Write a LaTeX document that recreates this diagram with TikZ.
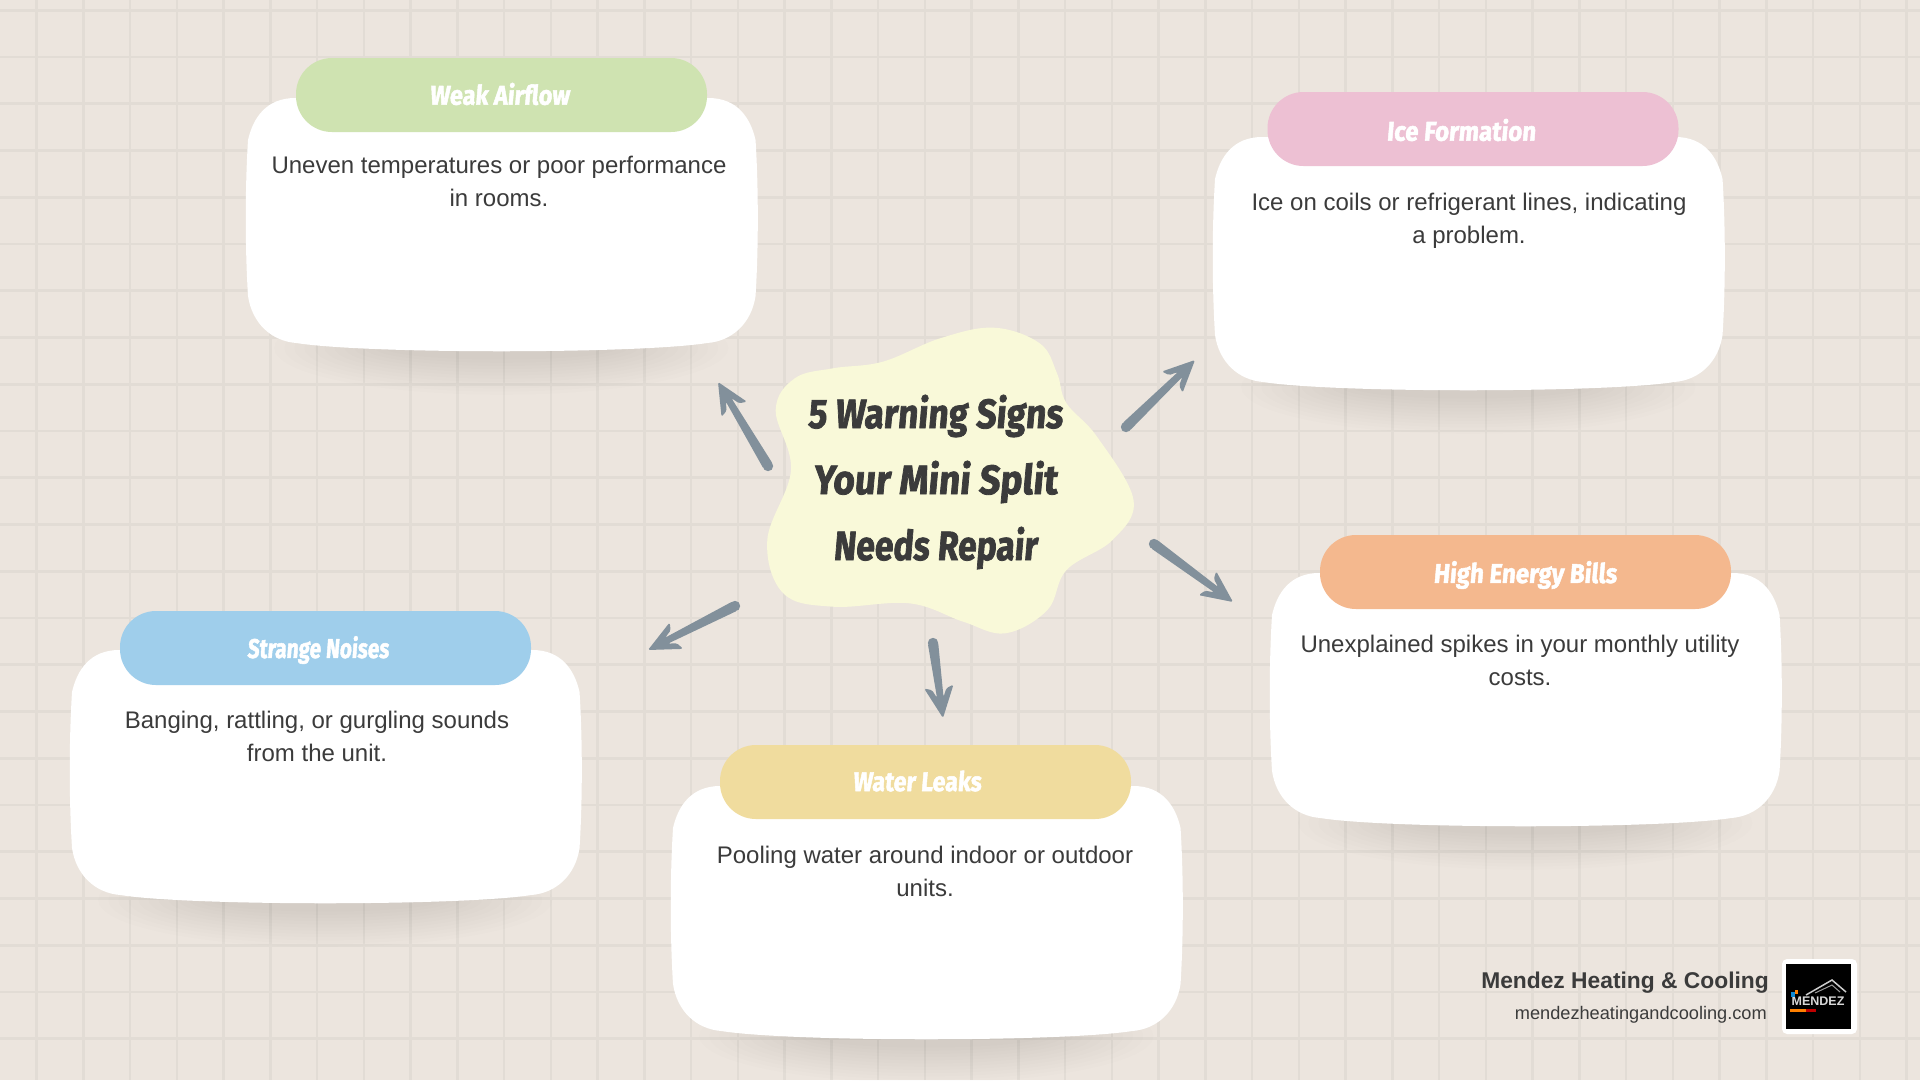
\documentclass[tikz,border=0pt]{standalone}
\usepackage{fontspec}
\usetikzlibrary{arrows.meta,calc}
\setmainfont{Liberation Sans}
\newfontfamily\headfont[BoldFeatures={FakeBold=2,FakeSlant=.1}]{Fira Sans}
\definecolor{bgc}{HTML}{ECE5DE}
\definecolor{gridc}{HTML}{E2DCD5}
\definecolor{ink}{HTML}{3B3B3B}
\definecolor{arrowc}{HTML}{82909B}
\definecolor{blobc}{HTML}{F9F9D9}
\definecolor{pgreen}{HTML}{CFE3B1}
\definecolor{ppink}{HTML}{EDC0D3}
\definecolor{porange}{HTML}{F4B88E}
\definecolor{pyellow}{HTML}{F0DC9E}
\definecolor{pblue}{HTML}{9FCEEB}
\tikzset{
  pillbox/.style={draw=none,rounded corners=36pt,minimum width=411pt,minimum height=74pt,inner sep=0pt},
  pilltext/.style={text=white,inner sep=0pt,font=\headfont\bfseries\fontsize{27}{30}\selectfont},
  bodytext/.style={text=ink,align=center,inner sep=0pt,font=\fontsize{24}{33}\selectfont},
  titletext/.style={text=ink,inner sep=0pt,font=\headfont\bfseries\fontsize{41}{48}\selectfont},
}
\newcommand\cardbase[2]{%
  \begin{scope}[shift={(#1,#2)},xscale=1.005]
    \foreach \i in {1,...,12}{
      \fill[black,fill opacity=.007] (255,250) ellipse ({236-10*\i pt} and {50-3.2*\i pt});
    }
    \fill[white] (50,0) -- (461,0) .. controls (490,0) and (503,20) .. (508,42)
      .. controls (511,90) and (511,150) .. (508,198)
      .. controls (504,225) and (485,243) .. (460,245)
      .. controls (390,256) and (120,256) .. (51,245)
      .. controls (26,243) and (7,225) .. (3,198)
      .. controls (0,150) and (0,90) .. (3,42)
      .. controls (8,20) and (21,0) .. (50,0) -- cycle;
  \end{scope}}
% tapered shaft and swept head, from named start #1 to named tip #2
\newcommand\sketcharrow[2]{%
  \fill[arrowc] (#1) circle (5.2pt);
  \fill[arrowc,rounded corners=1.6pt] (#2)
    -- ($(#2)!35pt!25:(#1)$) -- ($(#2)!30pt!14:(#1)$) -- ($(#2)!21pt!9:(#1)$)
    -- ($(#1)!5.2pt!-90:(#2)$) -- ($(#1)!5.2pt!90:(#2)$)
    -- ($(#2)!21pt!-9:(#1)$) -- ($(#2)!30pt!-14:(#1)$) -- ($(#2)!35pt!-25:(#1)$) -- cycle;}
\begin{document}
\begin{tikzpicture}[x=1pt,y=-1pt]
\useasboundingbox (0,0) rectangle (1920,1080);
\fill[bgc] (0,0) rectangle (1920,1080);
\foreach \k in {0,...,40}{
  \draw[gridc,line width=2.7pt] ({36.6+46.75*\k},0) -- ({36.6+46.75*\k},1080);
}
\foreach \k in {0,...,22}{
  \draw[gridc,line width=2.7pt] (0,{10.2+46.75*\k}) -- (1920,{10.2+46.75*\k});
}
% cards
\cardbase{245}{98}
\cardbase{1212}{137}
\cardbase{1269}{573}
\cardbase{670}{786}
\cardbase{69}{650}
% pills
\node[pillbox,fill=pgreen] (p1) at (501.5,95) {};
\node[pillbox,fill=ppink] (p2) at (1473,129) {};
\node[pillbox,fill=porange] (p3) at (1525.5,572) {};
\node[pillbox,fill=pyellow] (p4) at (925.5,782) {};
\node[pillbox,fill=pblue] (p5) at (325.5,648) {};
\node[pilltext] (l1) at (499.5,94) {\scalebox{.87}[1]{Weak Airflow}};
\node[pilltext] (l2) at (1461,130) {\scalebox{.89}[1]{Ice Formation}};
\node[pilltext] (l3) at (1525,575) {\scalebox{.89}[1]{High Energy Bills}};
\node[pilltext] (l4) at (917,781) {\scalebox{.86}[1]{Water Leaks}};
\node[pilltext] (l5) at (318,650) {\scalebox{.77}[1]{Strange Noises}};
% card text
\node[bodytext] (t1) at (499,181) {Uneven temperatures or poor performance\\in rooms.};
\node[bodytext] (t2) at (1469,221) {Ice on coils or refrigerant lines, indicating\\a problem.};
\node[bodytext] (t3) at (1520,660) {Unexplained spikes in your monthly utility\\costs.};
\node[bodytext] (t4) at (925,871) {Pooling water around indoor or outdoor\\units.};
\node[bodytext] (t5) at (317,736) {Banging, rattling, or gurgling sounds\\from the unit.};
% blob
\fill[blobc] plot[smooth cycle,tension=.62] coordinates {
 (993.8,327.7) (1039.7,343.3) (1057,373.3) (1066.5,403.3) (1097,436.7) (1133.5,500)
 (1112.5,540) (1066.5,570) (1047.4,610) (1005.3,633.3) (963.2,621.7) (909.6,603.3)
 (833,606.7) (783.3,593.3) (767.3,540) (791,470) (775.7,410) (794.8,378.3)
 (833,368.3) (882.8,361.7) (940.2,338.3)};
\node[titletext] (h1) at (935,416) {\scalebox{.86}[1]{5 Warning Signs}};
\node[titletext] (h2) at (935,482) {\scalebox{.9}[1]{Your Mini Split}};
\node[titletext] (h3) at (935,548) {\scalebox{.82}[1]{Needs Repair}};
% arrows
\coordinate (a1s) at (768,466); \coordinate (a1e) at (718,382);
\coordinate (a2s) at (1126,427); \coordinate (a2e) at (1195,360);
\coordinate (a3s) at (1154,544); \coordinate (a3e) at (1233,602);
\coordinate (a4s) at (933,643); \coordinate (a4e) at (943,718);
\coordinate (a5s) at (735,606); \coordinate (a5e) at (648,650);
\sketcharrow{a1s}{a1e}
\sketcharrow{a2s}{a2e}
\sketcharrow{a3s}{a3e}
\sketcharrow{a4s}{a4e}
\sketcharrow{a5s}{a5e}
% footer
\node[anchor=east,text=ink,inner sep=0pt,font=\bfseries\fontsize{22.8}{28}\selectfont] (f1) at (1769,983) {Mendez Heating \& Cooling};
\node[anchor=east,text=ink,inner sep=0pt,font=\fontsize{18.2}{22}\selectfont] (f2) at (1767,1015) {mendezheatingandcooling.com};
\fill[white,rounded corners=5pt] (1782,959) rectangle (1857,1034);
\fill[black] (1786,964) rectangle (1851,1029);
\draw[white!80!black,line width=1.5pt] (1806,995) -- (1832,980) -- (1846,992);
\draw[white!60!black,line width=1pt] (1815,993) -- (1832,985) -- (1840,992);
\node[text=white!85!black,inner sep=0pt,font=\bfseries\fontsize{12.5}{14}\selectfont] (f3) at (1818,1001) {MENDEZ};
\fill[orange] (1790,1009) rectangle (1806,1012);
\fill[red!75!black] (1806,1009) rectangle (1816,1012);
\fill[cyan!70!blue] (1791,992) rectangle (1795,997);
\fill[orange] (1795,990) rectangle (1798,994);
\end{tikzpicture}
\end{document}
